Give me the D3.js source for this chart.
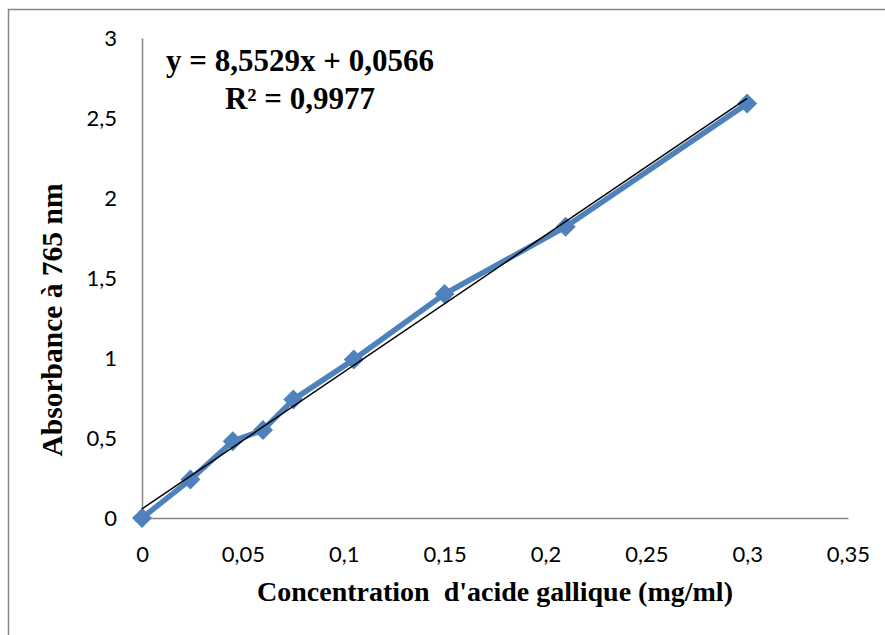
<!DOCTYPE html>
<html><head><meta charset="utf-8">
<script src="https://cdn.jsdelivr.net/npm/d3@7"></script>
<style>body{margin:0;background:#fff}svg{display:block}</style>
</head><body>
<svg id="c" width="885" height="635"></svg>
<script>
const concentrations = [0, 0.024, 0.045, 0.06, 0.075, 0.105, 0.15, 0.21, 0.3];
const absorbances = [0, 0.24, 0.48, 0.55, 0.74, 0.99, 1.40, 1.82, 2.59];
const xTicks = [0, 0.05, 0.1, 0.15, 0.2, 0.25, 0.3, 0.35];
const yTicks = [0, 0.5, 1, 1.5, 2, 2.5, 3];
const slope = [8.5529];
const intercept = [0.0566];
const equationLines = ["y = 8,5529x + 0,0566", "R² = 0,9977"];
const xTitle = "Concentration  d'acide gallique (mg/ml)";
const yTitle = "Absorbance à 765 nm";

const svg = d3.select("#c");
const fmt = v => String(v).replace(".", ",");
const x = d3.scaleLinear().domain([0, 0.35]).range([142, 848]);
const y = d3.scaleLinear().domain([0, 3]).range([518, 38]);

svg.append("rect").attr("x", 8.5).attr("y", 9.5).attr("width", 900).attr("height", 700)
  .attr("fill", "none").attr("stroke", "#868686").attr("stroke-width", 1.5);

const sans = "Lato, 'Open Sans', sans-serif";
const xAxis = d3.axisBottom(x).tickValues(xTicks).tickFormat(fmt).tickSize(0);
const yAxis = d3.axisLeft(y).tickValues(yTicks).tickFormat(fmt).tickSize(0).tickPadding(25);
const gx = svg.append("g").attr("transform", "translate(0,518)").call(xAxis);
const gy = svg.append("g").attr("transform", "translate(142,0)").call(yAxis);
[gx, gy].forEach(g => {
  g.select(".domain").attr("stroke", "#868686").attr("stroke-width", 1.5);
  g.selectAll("text").attr("font-family", sans).attr("font-size", 22).attr("fill", "#000");
});
gx.selectAll("text").attr("y", 44).attr("dy", 0);
gy.selectAll("text").attr("dy", "0.36em");

const line = d3.line().x((d, i) => x(concentrations[i])).y(d => y(d));
svg.append("path").datum(absorbances).attr("d", line).attr("fill", "none")
  .attr("stroke", "#4F81BD").attr("stroke-width", 5.5).attr("stroke-linejoin", "round");

const r = 10;
svg.selectAll(".m").data(absorbances).enter().append("path")
  .attr("transform", (d, i) => `translate(${x(concentrations[i])},${y(d)})`)
  .attr("d", `M0,${-r}L${r},0L0,${r}L${-r},0Z`)
  .attr("fill", "#4F81BD");

const x0 = 0, x1 = 0.3;
svg.append("line").attr("x1", x(x0)).attr("y1", y(slope[0] * x0 + intercept[0]))
  .attr("x2", x(x1)).attr("y2", y(slope[0] * x1 + intercept[0]))
  .attr("stroke", "#000").attr("stroke-width", 1.5);

const serif = "'Liberation Serif', 'Times New Roman', serif";
svg.append("text").attr("x", 300).attr("y", 71).attr("text-anchor", "middle")
  .attr("font-family", serif).attr("font-weight", "bold").attr("font-size", 31).text(equationLines[0]);
svg.append("text").attr("x", 300).attr("y", 109).attr("text-anchor", "middle")
  .attr("font-family", serif).attr("font-weight", "bold").attr("font-size", 31).text(equationLines[1]);

svg.append("text").attr("x", 495).attr("y", 601).attr("text-anchor", "middle")
  .attr("font-family", serif).attr("font-weight", "bold").attr("font-size", 28)
  .style("white-space", "pre").text(xTitle);
svg.append("text").attr("transform", "translate(62,320) rotate(-90)").attr("text-anchor", "middle")
  .attr("font-family", serif).attr("font-weight", "bold").attr("font-size", 29.5).text(yTitle);
</script>
</body></html>
